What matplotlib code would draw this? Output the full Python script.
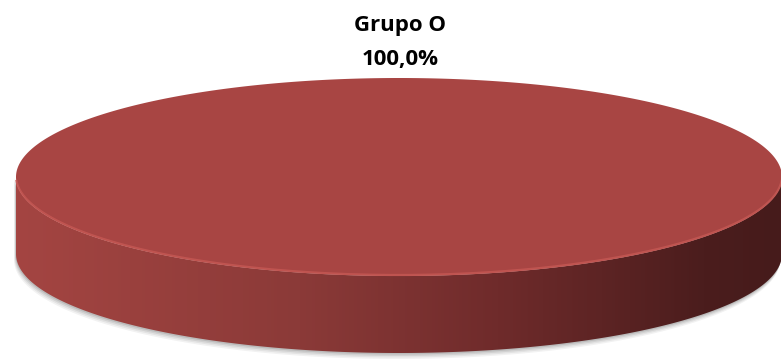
import numpy as np
import matplotlib
matplotlib.use('Agg')
import matplotlib.pyplot as plt
from matplotlib.colors import LinearSegmentedColormap
from matplotlib.patches import Polygon

labels = ['Grupo O']
values = [100.0]
top_colors = ['#A84543']

# layout of the 3d pie, in pixels
W, H = 781, 361
cx, cy = 399, 177
rx, ry = 383, 99
depth = 77


def ell(t, dy=0.0):
    return np.column_stack([cx + rx * np.cos(t), cy + dy + ry * np.sin(t)])


fig = plt.figure(figsize=(W / 100, H / 100), dpi=100)
ax = fig.add_axes([0, 0, 1, 1])
ax.set_xlim(0, W)
ax.set_ylim(H, 0)
ax.axis('off')

# soft shadow under the disc
t_front = np.linspace(0, np.pi, 200)
for k, a in enumerate([0.05, 0.06, 0.08, 0.10]):
    off = 6 - k * 1.5
    pts = np.vstack([ell(t_front, depth + off)[:, :], ell(t_front[::-1], 0)])
    pts[:, 0] += -2 + k * 0.5
    ax.add_patch(Polygon(pts, closed=True, fc='#000000', ec='none', alpha=a))

total = sum(values)
start = -np.pi / 2
side_cmap = LinearSegmentedColormap.from_list('side', [
    (0.0, '#A44542'), (0.37, '#8B3A38'), (0.63, '#6F2B2B'), (0.9, '#4B1D1D'), (1.0, '#461B1B')])

for lab, v, col in zip(labels, values, top_colors):
    frac = v / total
    end = start + 2 * np.pi * frac
    # front side (visible where sin(t) > 0)
    a0, a1 = max(start % (2 * np.pi), 0), min(end, np.pi) if frac < 1 else np.pi
    if frac >= 1:
        a0, a1 = 0, np.pi
    ts = np.linspace(a0, a1, 300)
    side = np.vstack([ell(ts), ell(ts[::-1], depth)])
    poly = Polygon(side, closed=True, fc='none', ec='none')
    ax.add_patch(poly)
    grad = np.linspace(0, 1, 512)[None, :]
    im = ax.imshow(grad, cmap=side_cmap, aspect='auto',
                   extent=[cx - rx, cx + rx, cy + ry + depth, cy - 5], zorder=2)
    im.set_clip_path(poly)

    # top face
    tt = np.linspace(start, end, 600)
    top = ell(tt)
    if frac < 1:
        top = np.vstack([[cx, cy], top])
    ax.add_patch(Polygon(top, closed=True, fc=col, ec='none', zorder=3))
    # rim highlight along the front edge
    tr = np.linspace(0.05, np.pi - 0.05, 300)
    rim = ell(tr)
    ax.plot(rim[:, 0], rim[:, 1] - 1, color='#C65854', lw=1.6, alpha=0.8, zorder=4)

    ax.text(cx + 1, 26, lab, ha='center', va='center', fontsize=16,
            fontweight='bold', family='Open Sans', color='black')
    ax.text(cx + 1, 59, f'{v:.1f}%'.replace('.', ','), ha='center', va='center',
            fontsize=16, fontweight='bold', family='Open Sans', color='black')
    start = end

fig.savefig('out.png', dpi=100)
